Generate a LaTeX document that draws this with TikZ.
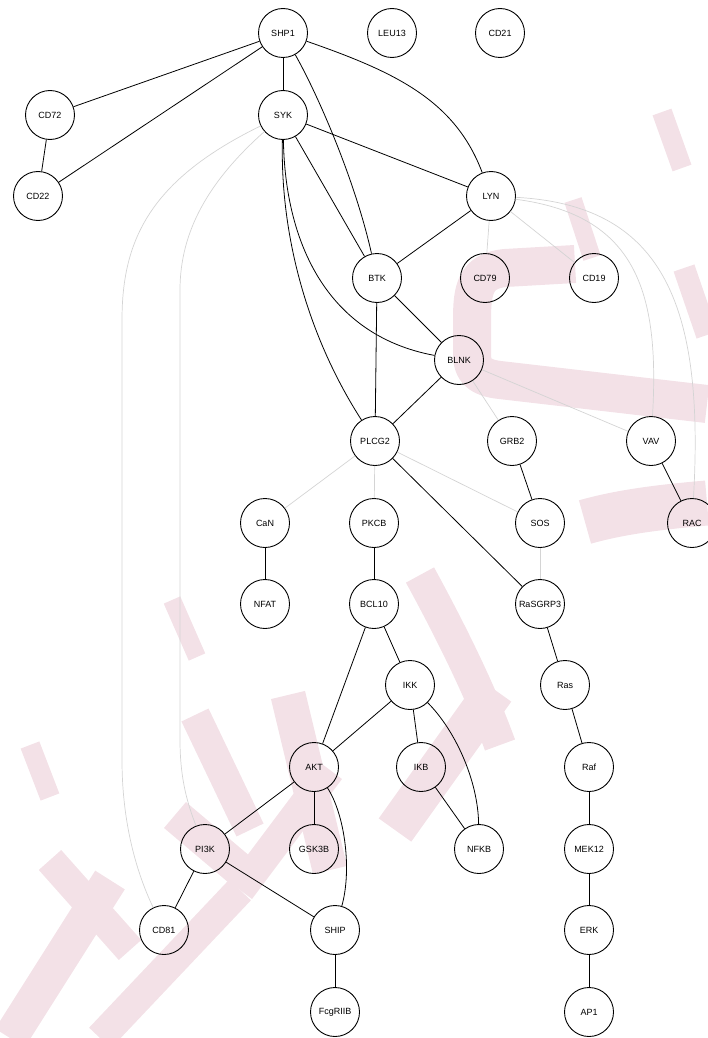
\documentclass[tikz,border=0pt]{standalone}
\usepackage{fontspec}
\setmainfont{Liberation Sans}
\definecolor{wmpink}{RGB}{243,225,231}
\definecolor{softgray}{RGB}{212,212,212}
\begin{document}
\begin{tikzpicture}[x=1pt,y=-1pt,
  gene/.style={circle, draw=black, line width=0.9pt, minimum size=49pt,
    inner sep=0pt, font=\fontsize{9}{10}\selectfont},
  link/.style={draw=black, line width=0.8pt},
  weak/.style={draw=softgray, line width=0.7pt},
  wm/.style={draw=wmpink, line cap=butt, line join=round}]
\useasboundingbox (0,0) rectangle (707,1038);

% faint background lettering
\draw[wm, line width=20pt] (662,112) -- (682,168);
\draw[wm, line width=18pt] (573,200) -- (592,258);
\draw[wm, line width=38pt] (575,264) -- (505,268) .. controls (475,271) and (472,290) .. (472,320)
  -- (472,355) .. controls (472,372) and (482,378) .. (500,380) -- (707,404);
\draw[wm, line width=22pt] (684,268) -- (707,335);
\draw[wm, line width=45pt] (585,522) .. controls (620,512) and (660,507) .. (707,503);
\draw[wm, line width=32pt] (420,575) .. controls (450,630) and (480,690) .. (500,745);
\draw[wm, line width=40pt] (495,690) -- (395,830);
\draw[wm, line width=18pt] (172,600) -- (197,657);
\draw[wm, line width=20pt] (30,745) -- (50,797);
\draw[wm, line width=30pt] (195,715) -- (250,830);
\draw[wm, line width=34pt] (175,815) -- (240,870);
\draw[wm, line width=35pt] (288,695) -- (330,870);
\draw[wm, line width=30pt] (50,860) -- (130,950);
\draw[wm, line width=35pt] (10,1038) -- (110,880);
\draw[wm, line width=30pt] (100,1038) -- (240,890);
\draw[wm, line width=30pt] (240,890) -- (330,770);

% nodes
\node[gene] (shp1) at (283,33) {SHP1};
\node[gene] (leu13) at (392,33) {LEU13};
\node[gene] (cd21) at (500,33) {CD21};
\node[gene] (cd72) at (50,115) {CD72};
\node[gene] (syk) at (283,115) {SYK};
\node[gene] (cd22) at (38,196) {CD22};
\node[gene] (lyn) at (491,196) {LYN};
\node[gene] (btk) at (377,278) {BTK};
\node[gene] (cd79) at (485,278) {CD79};
\node[gene] (cd19) at (594,278) {CD19};
\node[gene] (blnk) at (459,360) {BLNK};
\node[gene] (plcg2) at (375,441) {PLCG2};
\node[gene] (grb2) at (512,441) {GRB2};
\node[gene] (vav) at (651,441) {VAV};
\node[gene] (can) at (265,523) {CaN};
\node[gene] (pkcb) at (374,523) {PKCB};
\node[gene] (sos) at (540,523) {SOS};
\node[gene] (rac) at (692,523) {RAC};
\node[gene] (nfat) at (265,604) {NFAT};
\node[gene] (bcl10) at (374,604) {BCL10};
\node[gene] (rasgrp3) at (540,604) {RaSGRP3};
\node[gene] (ikk) at (410,685) {IKK};
\node[gene] (ras) at (565,685) {Ras};
\node[gene] (akt) at (314,767) {AKT};
\node[gene] (ikb) at (421,767) {IKB};
\node[gene] (raf) at (589,767) {Raf};
\node[gene] (pi3k) at (205,849) {PI3K};
\node[gene] (gsk3b) at (314,849) {GSK3B};
\node[gene] (nfkb) at (479,849) {NFKB};
\node[gene] (mek12) at (589,849) {MEK12};
\node[gene] (cd81) at (164,930) {CD81};
\node[gene] (ship) at (335,930) {SHIP};
\node[gene] (erk) at (589,930) {ERK};
\node[gene] (fcgriib) at (335,1012) {FcgRIIB};
\node[gene] (ap1) at (589,1012) {AP1};

% weak interactions
\draw[weak] (syk) .. controls (150,180) and (122,240) .. (122,320) -- (122,760)
  .. controls (122,830) and (140,880) .. (cd81);
\draw[weak] (syk) .. controls (210,180) and (180,230) .. (180,290) -- (180,740)
  .. controls (180,780) and (188,805) .. (pi3k);
\draw[weak] (lyn) -- (cd79);
\draw[weak] (lyn) -- (cd19);
\draw[weak] (lyn) .. controls (635,215) and (660,290) .. (vav);
\draw[weak] (lyn) .. controls (660,205) and (705,300) .. (rac);
\draw[weak] (blnk) -- (grb2);
\draw[weak] (blnk) -- (vav);
\draw[weak] (plcg2) -- (can);
\draw[weak] (plcg2) -- (pkcb);
\draw[weak] (plcg2) -- (sos);
\draw[weak] (sos) -- (rasgrp3);

% strong interactions
\draw[link] (shp1) -- (cd72);
\draw[link] (shp1) -- (cd22);
\draw[link] (shp1) -- (syk);
\draw[link] (shp1) .. controls (318,95) and (355,180) .. (btk);
\draw[link] (shp1) .. controls (395,72) and (455,100) .. (lyn);
\draw[link] (cd72) -- (cd22);
\draw[link] (syk) -- (lyn);
\draw[link] (syk) -- (btk);
\draw[link] (syk) .. controls (285,240) and (325,335) .. (blnk);
\draw[link] (syk) .. controls (280,240) and (310,340) .. (plcg2);
\draw[link] (lyn) -- (btk);
\draw[link] (btk) -- (blnk);
\draw[link] (btk) -- (plcg2);
\draw[link] (blnk) -- (plcg2);
\draw[link] (plcg2) -- (rasgrp3);
\draw[link] (grb2) -- (sos);
\draw[link] (vav) -- (rac);
\draw[link] (can) -- (nfat);
\draw[link] (pkcb) -- (bcl10);
\draw[link] (bcl10) -- (akt);
\draw[link] (bcl10) -- (ikk);
\draw[link] (ikk) -- (akt);
\draw[link] (ikk) -- (ikb);
\draw[link] (ikk) .. controls (455,730) and (478,780) .. (nfkb);
\draw[link] (ikb) -- (nfkb);
\draw[link] (rasgrp3) -- (ras);
\draw[link] (ras) -- (raf);
\draw[link] (raf) -- (mek12);
\draw[link] (mek12) -- (erk);
\draw[link] (erk) -- (ap1);
\draw[link] (akt) -- (pi3k);
\draw[link] (akt) -- (gsk3b);
\draw[link] (akt) .. controls (345,815) and (352,870) .. (ship);
\draw[link] (pi3k) -- (cd81);
\draw[link] (pi3k) -- (ship);
\draw[link] (ship) -- (fcgriib);
\end{tikzpicture}
\end{document}
